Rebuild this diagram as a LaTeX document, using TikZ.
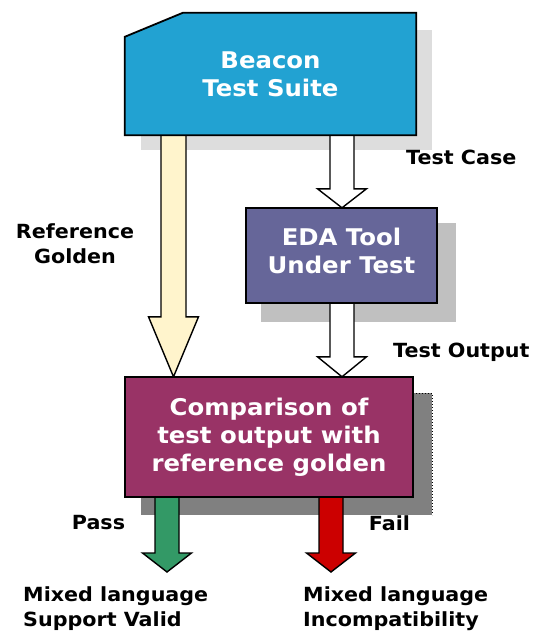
\documentclass[tikz,border=0pt]{standalone}
\usepackage{fontspec}
\setmainfont[FakeStretch=1.06]{DejaVu Sans}
\usetikzlibrary{calc}
\definecolor{beaconblue}{HTML}{22A2D2}
\definecolor{edaviolet}{HTML}{666699}
\definecolor{cmpplum}{HTML}{993366}
\definecolor{cream}{HTML}{FFF4CC}
\definecolor{passgreen}{HTML}{339966}
\definecolor{failred}{HTML}{CC0000}
\definecolor{shadowA}{HTML}{DDDDDD}
\definecolor{shadowB}{HTML}{C0C0C0}
\definecolor{shadowC}{HTML}{808080}
\tikzset{
  boxtext/.style={text=white, font=\bfseries\fontsize{23}{28}\selectfont, align=center, inner sep=0pt},
  lbl/.style={text=black, font=\bfseries\fontsize{19.5}{25}\selectfont, inner sep=0pt},
  boxline/.style={draw=black, line width=1.8pt, line join=miter},
  arrowline/.style={draw=black, line width=1.4pt, line join=miter},
}
% block arrow: style, start coordinate, tip coordinate, head length, shaft half width, head half width
\newcommand\blockarrow[6]{%
  \draw[arrowline,#1] ($(#2)+(-#5,0)$) -- ($(#2)+(#5,0)$) -- ($(#3)+(#5,-#4)$) -- ($(#3)+(#6,-#4)$) -- (#3)
    -- ($(#3)+(-#6,-#4)$) -- ($(#3)+(-#5,-#4)$) -- cycle;}
\begin{document}
\begin{tikzpicture}[x=1pt,y=-1pt]
\useasboundingbox (0,0) rectangle (541,632);
% shadows
\fill[shadowA] (141,30) rectangle (432,150);
\fill[shadowB] (261,223) rectangle (456,322);
\fill[shadowC] (141,393) rectangle (432,515);
\draw[black, dotted, line width=1pt] (413,393) -- (432,393) -- (432,515);
% box nodes (frames)
\node[boxtext, minimum width=291pt, minimum height=122pt] (beacon) at (270.5,74) {};
\node[boxtext, minimum width=191pt, minimum height=95pt] (eda) at (341.5,255.5) {};
\node[boxtext, minimum width=288pt, minimum height=120pt] (cmp) at (269,437) {};
% arrow end coordinates
\coordinate (refA) at (beacon.south -| 173.5,0);
\coordinate (refB) at (cmp.north -| 173.5,0);
\coordinate (tcA) at (beacon.south -| 342,0);
\coordinate (tcB) at (eda.north -| 342,0);
\coordinate (toA) at (eda.south -| 342,0);
\coordinate (toB) at (cmp.north -| 342,0);
\coordinate (passA) at (cmp.south -| 167,0);
\coordinate (passB) at (167,572);
\coordinate (failA) at (cmp.south -| 331,0);
\coordinate (failB) at (331,572);
% arrows
\blockarrow{fill=cream}{refA}{refB}{60}{12.5}{25}
\blockarrow{fill=white}{tcA}{tcB}{19}{12}{24.5}
\blockarrow{fill=white}{toA}{toB}{20}{12}{24.5}
\blockarrow{fill=passgreen}{passA}{passB}{19}{12}{24.5}
\blockarrow{fill=failred}{failA}{failB}{19}{12}{24.5}
% boxes
\draw[boxline, fill=beaconblue] (beacon.south west) -- ($(beacon.north west)+(0,24)$) -- ($(beacon.north west)+(58,0)$)
  -- (beacon.north east) -- (beacon.south east) -- cycle;
\node[boxtext] (beacontxt) at (beacon.center) {Beacon\\Test Suite};
\draw[boxline, fill=edaviolet] (eda.south west) rectangle (eda.north east);
\node[boxtext] (edatxt) at ($(eda.center)+(0,-5)$) {EDA Tool\\Under Test};
\draw[boxline, fill=cmpplum] (cmp.south west) rectangle (cmp.north east);
\node[boxtext] (cmptxt) at (cmp.center) {Comparison of\\test output with\\reference golden};
% labels
\node[lbl, anchor=west] (ltc) at (406,157) {Test Case};
\node[lbl, align=center] (lref) at (75,243.5) {Reference\\Golden};
\node[lbl, anchor=west] (lto) at (393,352) {Test Output};
\node[lbl] (lpass) at (98.5,523) {Pass};
\node[lbl] (lfail) at (389.5,523) {Fail};
\node[lbl, anchor=west, align=left] (lvalid) at (23,608.5) {Mixed language\\Support Valid};
\node[lbl, anchor=west, align=left] (linc) at (303,608.5) {Mixed language\\Incompatibility};
\end{tikzpicture}
\end{document}
